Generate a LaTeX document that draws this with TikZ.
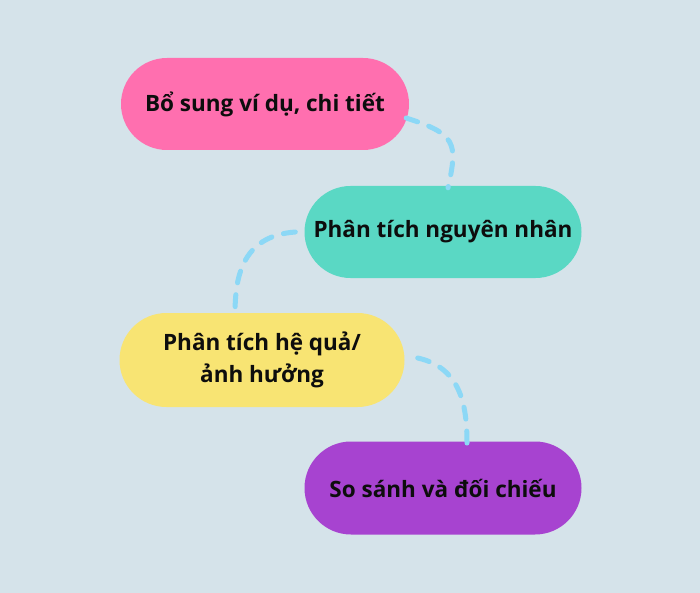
\documentclass[tikz,border=0pt]{standalone}
\usepackage{fontspec}
\setmainfont{Open Sans}
\usetikzlibrary{shapes.misc, positioning, calc}
\definecolor{bgblue}{HTML}{D5E3EA}
\definecolor{pinkfill}{HTML}{FF6FAF}
\definecolor{tealfill}{HTML}{5AD8C4}
\definecolor{yellowfill}{HTML}{F8E473}
\definecolor{purplefill}{HTML}{A743D0}
\definecolor{linkblue}{HTML}{8CD8F6}

\begin{document}
\begin{tikzpicture}[x=1pt, y=-1pt,
    blob/.style={rounded rectangle, minimum width=288pt, minimum height=92pt, inner sep=0pt, align=center, font=\fontsize{22.5}{32}\selectfont\bfseries, text=black!95},
    link/.style={line width=5pt, linkblue, dash pattern=on 12pt off 12pt, line cap=round}]
    % background
    \fill[bgblue] (0,0) rectangle (700,593);
    \useasboundingbox (0,0) rectangle (700,593);

    % --- STEPS ---
    \node (examples) [blob, fill=pinkfill] at (265,104) {Bổ sung ví dụ, chi tiết};
    \node (causes) [blob, fill=tealfill, minimum width=277pt] at (443,232) {Phân tích nguyên nhân};
    \node (effects) [blob, fill=yellowfill, minimum width=285pt, minimum height=94pt] at (262,360) {Phân tích hệ quả/\\ảnh hưởng};
    \node (compare) [blob, fill=purplefill, minimum width=277pt, minimum height=93pt] at (443,488) {So sánh và đối chiếu};

    % dashed links
    \draw[link] ([xshift=-3pt, yshift=-14pt]examples.east) .. controls +(50,16) and +(10,-45) .. ([xshift=5pt, yshift=-2pt]causes.north);
    \draw[link] ([xshift=-9pt]causes.west) .. controls +(-55,4) and +(0,-35) .. ([xshift=-27pt, yshift=-2pt]effects.north);
    \draw[link] ([xshift=13pt, yshift=2pt]effects.east) .. controls +(45,10) and +(0,-35) .. ([xshift=24pt, yshift=-3pt]compare.north);
\end{tikzpicture}
\end{document}
